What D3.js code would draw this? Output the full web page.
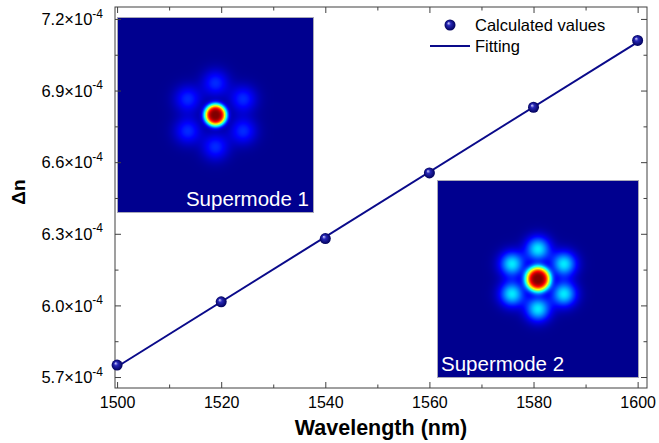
<!DOCTYPE html>
<html>
<head>
<meta charset="utf-8">
<script src="https://cdn.jsdelivr.net/npm/d3@7"></script>
<style>
  body { margin: 0; background: #fff; }
  svg { display: block; font-family: "Liberation Sans", Arial, sans-serif; }
</style>
</head>
<body>
<svg width="659" height="443"></svg>
<script>
// data
const wavelength = [1500, 1520, 1540, 1560, 1580, 1600]
const deltaN = [5.75e-4, 6.015e-4, 6.28e-4, 6.555e-4, 6.83e-4, 7.11e-4]
const fitWavelength = [1500, 1600]
const fitDeltaN = [5.743e-4, 7.103e-4]

const xTicks = [1500, 1520, 1540, 1560, 1580, 1600]
const xMinor = [1510, 1530, 1550, 1570, 1590]
const yTicks = [5.7e-4, 6.0e-4, 6.3e-4, 6.6e-4, 6.9e-4, 7.2e-4]
const yTickLabels = ['5.7', '6.0', '6.3', '6.6', '6.9', '7.2']
const yMinor = [5.85e-4, 6.15e-4, 6.45e-4, 6.75e-4, 7.05e-4]

// mode field lobes (hexagonal ring around the core)
const lobeAngles = [90, 30, -30, -90, -150, 150]
const mode1 = { coreW: 11, coreP: 3.6, satAmp: 0.15, satW: 13, satDist: 32 }
const mode2 = { coreW: 12.5, coreP: 3.4, satAmp: 0.34, satW: 12, satDist: 30 }

const svg = d3.select('svg')
const pLeft = 115, pRight = 647, pTop = 7, pBottom = 388
const frameColor = '#404040'
const navy = '#0a0a8a'

const x = d3.scaleLinear().domain([1499.6, 1601.8]).range([pLeft, pRight])
const y = d3.scaleLinear().domain([5.654e-4, 7.25e-4]).range([pBottom, pTop])

// gradient for the shiny markers
const defs = svg.append('defs')
const grad = defs.append('radialGradient').attr('id', 'ball')
  .attr('cx', '50%').attr('cy', '50%').attr('r', '50%')
  .attr('fx', '35%').attr('fy', '32%')
grad.append('stop').attr('offset', '0%').attr('stop-color', '#d8d8ff')
grad.append('stop').attr('offset', '35%').attr('stop-color', '#2828b8')
grad.append('stop').attr('offset', '100%').attr('stop-color', '#00005a')

// jet colour map
const jet = d3.scaleLinear()
  .domain([0, 0.11, 0.36, 0.61, 0.86, 1])
  .range(['#00008f', '#0000ff', '#00ffff', '#ffff00', '#ff0000', '#800000'])
  .clamp(true)

function drawMode(px, py, w, h, m, label, atRight){
  const canvas = document.createElement('canvas')
  canvas.width = w
  canvas.height = h
  const ctx = canvas.getContext('2d')
  const img = ctx.createImageData(w, h)
  const u = d3.scaleLinear().domain([0, w]).range([-w / 2, w / 2])
  const v = d3.scaleLinear().domain([0, h]).range([-h / 2, h / 2])
  const sats = lobeAngles.map(a => [m.satDist * Math.cos(a * Math.PI / 180), -m.satDist * Math.sin(a * Math.PI / 180)])
  for(let j = 0; j < h; j++){
    for(let i = 0; i < w; i++){
      let cx = u(i + 0.5), cy = v(j + 0.5)
      let r = Math.sqrt(cx * cx + cy * cy)
      let val = Math.exp(-Math.pow(r / m.coreW, m.coreP))
      sats.forEach(s => {
        let dx = cx - s[0], dy = cy - s[1]
        val += m.satAmp * Math.exp(-(dx * dx + dy * dy) / (m.satW * m.satW))
      })
      let c = d3.rgb(jet(Math.min(val, 1)))
      let k = (j * w + i) * 4
      img.data[k] = c.r
      img.data[k + 1] = c.g
      img.data[k + 2] = c.b
      img.data[k + 3] = 255
    }
  }
  ctx.putImageData(img, 0, 0)
  const g = svg.append('g').attr('transform', `translate(${px},${py})`)
  g.append('image').attr('href', canvas.toDataURL()).attr('width', w).attr('height', h)
  g.append('rect').attr('x', 0.5).attr('y', 0.5).attr('width', w - 1).attr('height', h - 1)
    .attr('fill', 'none').attr('stroke', '#a8a8b8').attr('stroke-width', 1)
  g.append('text')
    .attr('x', atRight ? w - 5 : 4)
    .attr('y', h - 7)
    .attr('text-anchor', atRight ? 'end' : 'start')
    .attr('fill', '#fff')
    .attr('font-size', 20.5)
    .text(label)
}

drawMode(117, 17, 197, 196, mode1, 'Supermode 1', true)
drawMode(437, 180, 202, 198, mode2, 'Supermode 2', false)

// axes with inward ticks on all four sides
function styleAxis(g){
  g.attr('font-family', null)
  g.select('.domain').remove()
  g.selectAll('.tick line').attr('stroke', frameColor)
}

svg.append('g').attr('transform', `translate(0,${pBottom})`)
  .call(d3.axisBottom(x).tickValues(xTicks).tickSizeInner(-6).tickSizeOuter(0).tickPadding(9).tickFormat(d3.format('d')))
  .call(styleAxis)
  .call(g => g.selectAll('.tick text').attr('font-size', 16).attr('fill', '#000'))
svg.append('g').attr('transform', `translate(0,${pBottom})`)
  .call(d3.axisBottom(x).tickValues(xMinor).tickSizeInner(-3.5).tickSizeOuter(0).tickFormat(''))
  .call(styleAxis)
svg.append('g').attr('transform', `translate(0,${pTop})`)
  .call(d3.axisTop(x).tickValues(xTicks).tickSizeInner(-6).tickSizeOuter(0).tickFormat(''))
  .call(styleAxis)
svg.append('g').attr('transform', `translate(0,${pTop})`)
  .call(d3.axisTop(x).tickValues(xMinor).tickSizeInner(-3.5).tickSizeOuter(0).tickFormat(''))
  .call(styleAxis)

svg.append('g').attr('transform', `translate(${pLeft},0)`)
  .call(d3.axisLeft(y).tickValues(yTicks).tickSizeInner(-6).tickSizeOuter(0).tickPadding(12).tickFormat(''))
  .call(styleAxis)
  .call(g => g.selectAll('.tick text')
    .attr('font-size', 16.5).attr('fill', '#000').attr('dy', '0.34em')
    .each(function(d, i){
      const t = d3.select(this)
      t.append('tspan').text(yTickLabels[i] + '×10')
      t.append('tspan').attr('font-size', 12).attr('dy', '-0.62em').text('-4')
    }))
svg.append('g').attr('transform', `translate(${pLeft},0)`)
  .call(d3.axisLeft(y).tickValues(yMinor).tickSizeInner(-3.5).tickSizeOuter(0).tickFormat(''))
  .call(styleAxis)
svg.append('g').attr('transform', `translate(${pRight},0)`)
  .call(d3.axisRight(y).tickValues(yTicks).tickSizeInner(-6).tickSizeOuter(0).tickFormat(''))
  .call(styleAxis)
svg.append('g').attr('transform', `translate(${pRight},0)`)
  .call(d3.axisRight(y).tickValues(yMinor).tickSizeInner(-3.5).tickSizeOuter(0).tickFormat(''))
  .call(styleAxis)

// frame
svg.append('rect')
  .attr('x', pLeft).attr('y', pTop).attr('width', pRight - pLeft).attr('height', pBottom - pTop)
  .attr('fill', 'none').attr('stroke', frameColor).attr('stroke-width', 1)

// fitted line
const line = d3.line().x(d => x(d[0])).y(d => y(d[1]))
svg.append('path')
  .datum(fitWavelength.map((w, i) => [w, fitDeltaN[i]]))
  .attr('d', line)
  .attr('fill', 'none').attr('stroke', navy).attr('stroke-width', 2)

// calculated points
svg.selectAll('.pt')
  .data(wavelength.map((w, i) => [w, deltaN[i]]))
  .enter().append('circle')
  .attr('class', 'pt')
  .attr('cx', d => x(d[0]))
  .attr('cy', d => y(d[1]))
  .attr('r', 5.5)
  .attr('fill', 'url(#ball)')

// legend
svg.append('circle').attr('cx', 450).attr('cy', 25).attr('r', 5.5).attr('fill', 'url(#ball)')
svg.append('text').attr('x', 475).attr('y', 31).attr('font-size', 16.5).text('Calculated values')
svg.append('line').attr('x1', 430).attr('x2', 470).attr('y1', 46).attr('y2', 46)
  .attr('stroke', navy).attr('stroke-width', 2)
svg.append('text').attr('x', 475).attr('y', 52).attr('font-size', 16.5).text('Fitting')

// axis titles
svg.append('text')
  .attr('x', (pLeft + pRight) / 2).attr('y', 435)
  .attr('text-anchor', 'middle').attr('font-size', 21.5).attr('font-weight', 'bold')
  .text('Wavelength (nm)')
svg.append('text')
  .attr('transform', `translate(25,192) rotate(-90)`)
  .attr('text-anchor', 'middle').attr('font-size', 19).attr('font-weight', 'bold')
  .text('Δn')
</script>
</body>
</html>
